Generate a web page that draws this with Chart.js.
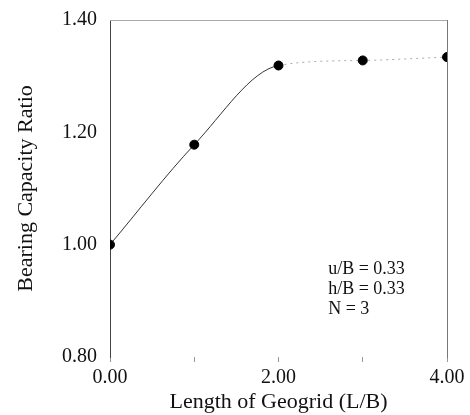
<!DOCTYPE html>
<html>
<head>
<meta charset="utf-8">
<script src="https://cdn.jsdelivr.net/npm/chart.js@4/dist/chart.umd.min.js"></script>
<style>
html,body{margin:0;padding:0;background:#fff;}
#wrap{width:470px;height:415px;position:relative;}
</style>
</head>
<body>
<div id="wrap"><canvas id="c" width="470" height="415"></canvas></div>
<script>
const lengths = [0, 1, 2, 3, 4];
const bcr = [1.00, 1.178, 1.319, 1.328, 1.334];
const xTickLabels = {0: '0.00', 2: '2.00', 4: '4.00'};
const yTicks = [0.8, 1.0, 1.2, 1.4];
const noteLines = ['u/B = 0.33', 'h/B = 0.33', 'N = 3'];
const notePos = {x: 2.59, y: 0.956};

const serif = '"Liberation Serif", "Times New Roman", serif';

const notePlugin = {
  id: 'note',
  afterDatasetsDraw(chart) {
    const ctx = chart.ctx;
    const xs = chart.scales.x, ys = chart.scales.y;
    const px = xs.getPixelForValue(notePos.x);
    const py = ys.getPixelForValue(notePos.y);
    ctx.save();
    ctx.font = '18px ' + serif;
    ctx.fillStyle = '#111';
    ctx.textBaseline = 'middle';
    ctx.textAlign = 'left';
    noteLines.forEach((t, i) => ctx.fillText(t, px, py + i * 20));
    ctx.restore();
  }
};

new Chart(document.getElementById('c'), {
  type: 'line',
  data: {
    datasets: [{
      data: lengths.map((x, i) => ({x: x, y: bcr[i]})),
      borderColor: '#333',
      borderWidth: 1,
      cubicInterpolationMode: 'monotone',
      pointRadius: 4.5,
      pointBackgroundColor: '#000',
      pointBorderColor: '#000',
      segment: {
        borderDash: c => c.p0DataIndex >= 2 ? [2, 4] : undefined,
        borderColor: c => c.p0DataIndex >= 2 ? '#aaa' : '#333'
      }
    }]
  },
  options: {
    responsive: false,
    animation: false,
    layout: {padding: {top: 20, right: 23, left: 13, bottom: 0}},
    plugins: {legend: {display: false}, tooltip: {enabled: false}},
    scales: {
      x: {
        type: 'linear', min: 0, max: 4,
        afterFit: s => { s.height = 58; },
        border: {display: false},
        grid: {display: true, drawOnChartArea: false, tickLength: 5, color: '#999'},
        ticks: {
          stepSize: 1, autoSkip: false, maxRotation: 0, padding: 4,
          color: '#111', font: {family: serif, size: 20},
          callback: v => xTickLabels[v] !== undefined ? xTickLabels[v] : ''
        },
        title: {display: true, text: 'Length of Geogrid (L/B)', color: '#111',
                font: {family: serif, size: 22}, padding: {top: -4, bottom: 0}}
      },
      y: {
        type: 'linear', min: 0.8, max: 1.4,
        afterFit: s => { s.width = 97; },
        afterBuildTicks: s => { s.ticks = yTicks.map(v => ({value: v})); },
        border: {display: true, color: '#444', width: 1},
        grid: {display: false},
        ticks: {
          color: '#111', padding: 5, font: {family: serif, size: 20},
          callback: v => Number(v).toFixed(2)
        },
        title: {display: true, text: 'Bearing Capacity Ratio', color: '#111',
                font: {family: serif, size: 22}, padding: {top: 0, bottom: 6}}
      },
      x2: {
        type: 'linear', position: 'top', min: 0, max: 4,
        afterFit: s => { s.height = 0; },
        border: {display: true, color: '#aaa', width: 1, dash: [3, 3]},
        grid: {display: false}, ticks: {display: false}
      },
      y2: {
        type: 'linear', position: 'right', min: 0.8, max: 1.4,
        afterFit: s => { s.width = 0; },
        border: {display: true, color: '#777', width: 1, dash: [6, 3]},
        grid: {display: false}, ticks: {display: false}
      }
    }
  },
  plugins: [notePlugin]
});
</script>
</body>
</html>
